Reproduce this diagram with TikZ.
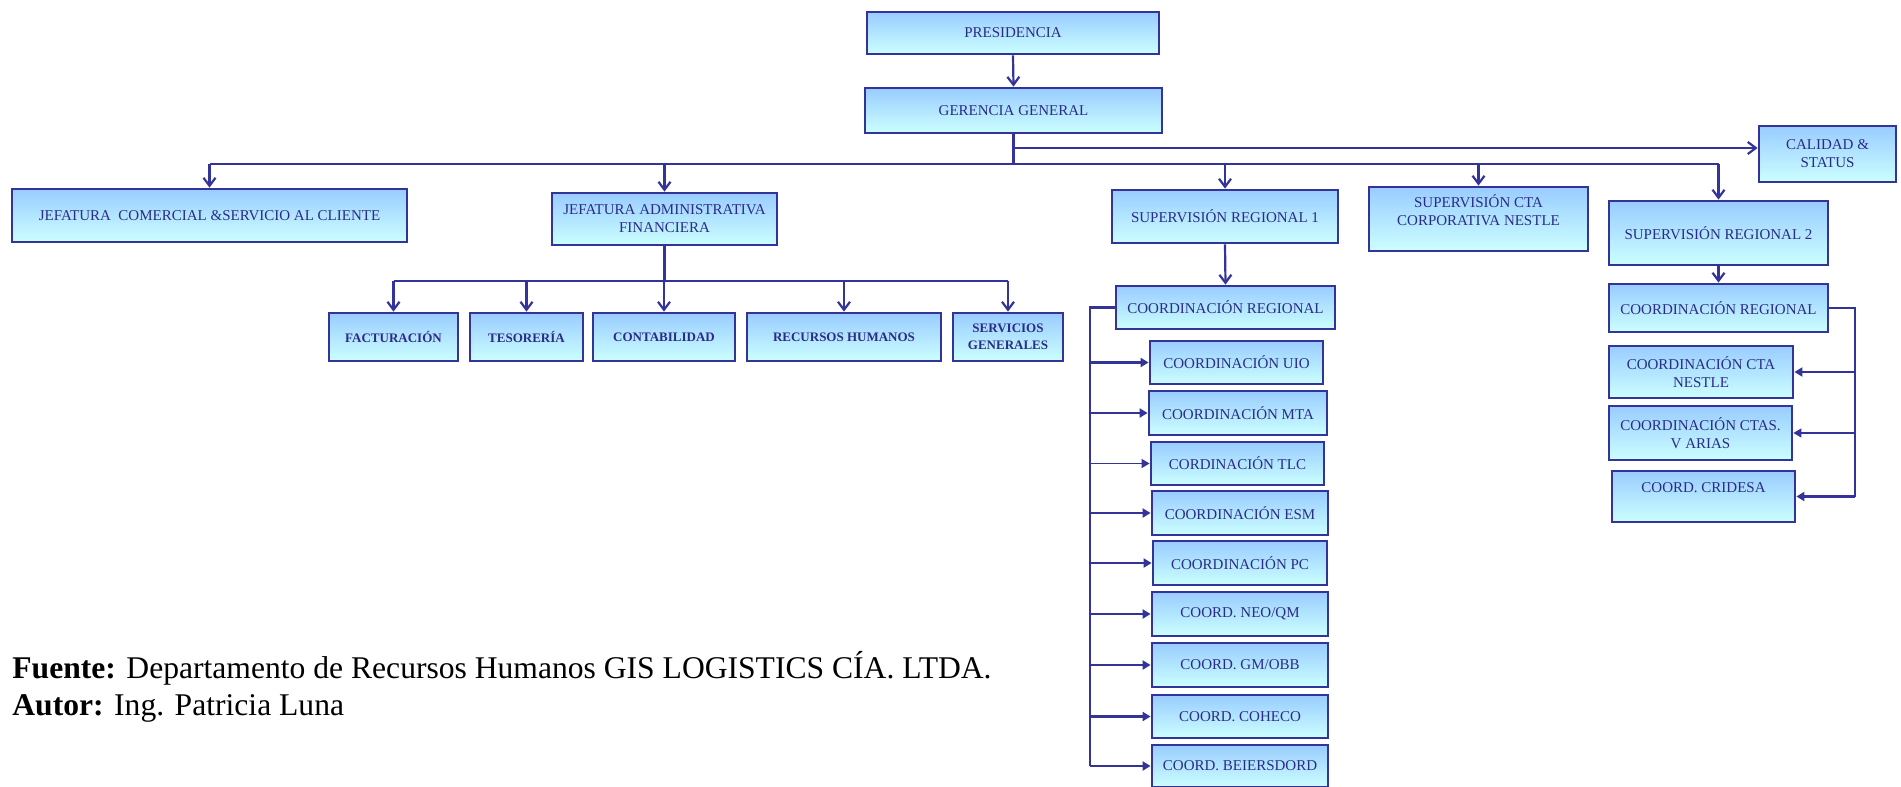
\documentclass[tikz,border=0pt]{standalone}
\usepackage{fontspec}
\setmainfont{Liberation Serif}
\usetikzlibrary{arrows.meta}

\definecolor{orgline}{HTML}{333399}
\definecolor{orgtext}{HTML}{2A2C88}
\definecolor{boxtop}{HTML}{99CCFF}
\definecolor{boxbot}{HTML}{CCFFFF}

% A box given by its corners (pixels): [style] name x1 y1 x2 y2 text
\newcommand{\orgbox}[7][]{%
  \pgfmathsetmacro\obW{(#5-#3)*0.5}%
  \pgfmathsetmacro\obH{(#6-#4)*0.5}%
  \node[orgnode,minimum width=\obW pt,minimum height=\obH pt,#1]
    (#2) at ({(#3+#5)/2},{(#4+#6)/2}) {#7};%
}

\tikzset{
  orgnode/.style={draw=orgline,line width=1.4pt,top color=boxtop,bottom color=boxbot,
    text=orgtext,align=center,inner sep=1pt,
    font=\fontsize{7.5}{9}\selectfont},
  boldnode/.style={font=\fontsize{6.5}{8.5}\selectfont\bfseries},
  conn/.style={draw=orgline,line width=1.1pt},
  thinconn/.style={draw=orgline,line width=0.6pt},
  arrv/.style={-{Straight Barb[length=4pt,width=6pt]}},
  arrt/.style={-{Triangle[length=4pt,width=4.5pt]}},
  foot/.style={inner sep=0pt,font=\fontsize{15.8}{18}\selectfont,text=black}
}

\begin{document}
\begin{tikzpicture}[x=0.5pt,y=-0.5pt]
\useasboundingbox (0,0) rectangle (1901,787);

% top management
\orgbox{pres}{867}{12}{1159}{54}{PRESIDENCIA}
\orgbox{ger}{865}{88}{1162}{133}{GERENCIA GENERAL}

% second level
\orgbox{jc}{12}{189}{407}{242}{JEFATURA\ \ COMERCIAL \&SERVICIO AL CLIENTE}
\orgbox{ja}{552}{193}{777}{245}{JEFATURA ADMINISTRATIVA\\FINANCIERA}
\orgbox{sr1}{1112}{190}{1338}{243}{SUPERVISIÓN REGIONAL 1}
\orgbox{scta}{1369}{187}{1588}{251}{SUPERVISIÓN CTA\\CORPORATIVA NESTLE\\~}
\orgbox{cal}{1759}{126}{1896}{182}{CALIDAD \&\\STATUS}
\orgbox{sr2}{1609}{201}{1828}{265}{SUPERVISIÓN REGIONAL 2}

% administrative departments
\orgbox[boldnode]{fac}{329}{313}{458}{361}{FACTURACIÓN}
\orgbox[boldnode]{tes}{470}{313}{583}{361}{TESORERÍA}
\orgbox[boldnode]{cont}{593}{313}{735}{361}{CONTABILIDAD}
\orgbox[boldnode]{rrhh}{747}{313}{941}{361}{RECURSOS HUMANOS}
\orgbox[boldnode]{serv}{953}{313}{1063}{361}{SERVICIOS\\GENERALES}

% regional 1 coordinations
\orgbox{cr1}{1116}{286}{1335}{329}{COORDINACIÓN REGIONAL}
\orgbox{uio}{1150}{341}{1323}{384}{COORDINACIÓN UIO}
\orgbox{mta}{1149}{391}{1327}{435}{COORDINACIÓN MTA}
\orgbox{tlc}{1151}{442}{1324}{485}{CORDINACIÓN TLC}
\orgbox{esm}{1152}{491}{1328}{535}{COORDINACIÓN ESM}
\orgbox{pc}{1153}{541}{1327}{585}{COORDINACIÓN PC}
\orgbox{neo}{1152}{592}{1328}{636}{COORD. NEO/QM}
\orgbox{gm}{1152}{643}{1328}{687}{COORD. GM/OBB}
\orgbox{coh}{1152}{695}{1328}{738}{COORD. COHECO}
\orgbox{bei}{1152}{745}{1328}{787}{COORD. BEIERSDORD}

% regional 2 coordinations
\orgbox{cr2}{1609}{284}{1828}{332}{COORDINACIÓN REGIONAL}
\orgbox{nes}{1609}{346}{1793}{398}{COORDINACIÓN CTA\\NESTLE}
\orgbox{var}{1609}{406}{1792}{460}{COORDINACIÓN CTAS.\\V ARIAS}
\orgbox{cri}{1612}{471}{1795}{522}{COORD. CRIDESA\\~}

% connectors from the general management
\coordinate (busY) at (0,164);
\coordinate (calY) at (0,148);
\draw[conn,arrv] (pres.south) -- (ger.north);
\draw[conn] (ger.south) -- (ger.south |- busY);
\draw[conn] (jc.north |- busY) -- (sr2.north |- busY);
\foreach \n in {jc,ja,sr1,scta,sr2}
  \draw[conn,arrv] (\n.north |- busY) -- (\n.north);
\draw[conn,arrv] (ger.south |- calY) -- (cal.west |- calY);

% administrative row
\coordinate (rowY) at (0,281);
\draw[conn] (ja.south) -- (ja.south |- rowY);
\draw[conn] (fac.north |- rowY) -- (serv.north |- rowY);
\foreach \n in {fac,tes,cont,rrhh,serv}
  \draw[conn,arrv] (\n.north |- rowY) -- (\n.north);

% regional 1 tree
\coordinate (busL) at (1090,0);
\draw[conn,arrv] (sr1.south) -- (cr1.north);
\draw[conn] (cr1.west) -- (cr1.west -| busL) -- (bei.west -| busL);
\foreach \n in {uio,mta,esm,pc,neo,gm,coh,bei}
  \draw[conn,arrt] (\n.west -| busL) -- (\n.west);
\draw[thinconn,arrt] (tlc.west -| busL) -- (tlc.west);

% regional 2 tree
\coordinate (busR) at (1855,0);
\draw[conn,arrv] (sr2.south) -- (cr2.north);
\draw[conn] (cr2.east) -- (cr2.east -| busR) -- (cri.east -| busR);
\foreach \n in {nes,cri}
  \draw[conn,arrt] (\n.east -| busR) -- (\n.east);
\draw[thinconn,arrt] (var.east -| busR) -- (var.east);

% source note
\node[foot,anchor=base west] (fuente) at (12,678)
  {\textbf{Fuente:} Departamento de Recursos Humanos GIS LOGISTICS CÍA. LTDA.};
\node[foot,anchor=base west] (autor) at (12,715)
  {\textbf{Autor:} Ing. Patricia Luna};
\end{tikzpicture}
\end{document}
